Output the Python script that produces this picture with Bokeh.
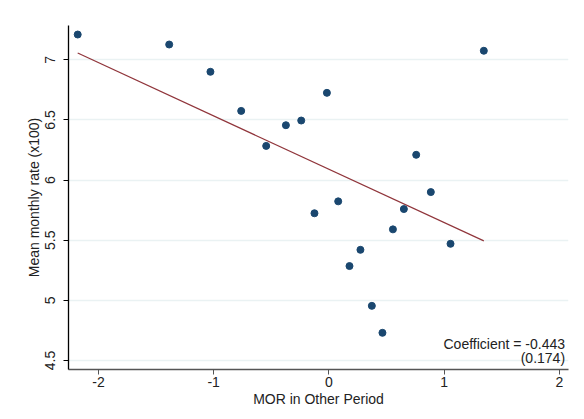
from bokeh.plotting import figure
from bokeh.models import Range1d, FixedTicker, Label
from bokeh.embed import file_html
from bokeh.resources import INLINE

# Data
mor_other = [-2.18, -1.386, -1.028, -0.761, -0.544, -0.373, -0.240, -0.017, 1.345,
             0.758, 0.885, 0.081, -0.125, 0.651, 0.556, 1.056, 0.274, 0.179, 0.373, 0.465]
mean_rate = [7.21, 7.127, 6.90, 6.575, 6.284, 6.456, 6.495, 6.725, 7.075,
             6.21, 5.90, 5.823, 5.724, 5.759, 5.59, 5.47, 5.42, 5.285, 4.954, 4.73]

fit_slope = -0.443
fit_intercept = 6.09
coef_text = "Coefficient = -0.443"
se_text = "(0.174)"

x_ticks = [-2, -1, 0, 1, 2]
x_tick_labels = ["-2", "-1", "0", "1", "2"]
y_ticks = [4.5, 5, 5.5, 6, 6.5, 7]
y_tick_labels = ["4.5", "5", "5.5", "6", "6.5", "7"]

FONT = "Liberation Sans"
FS = "14px"

p = figure(width=576, height=415, output_backend="svg", toolbar_location=None,
           x_range=Range1d(-2.26, 2.08), y_range=Range1d(4.425, 7.285),
           min_border_left=68, min_border_right=8, min_border_top=25, min_border_bottom=46)
p.outline_line_color = None
p.background_fill_color = "white"
p.border_fill_color = "white"

# grid
p.xgrid.grid_line_color = None
p.ygrid.grid_line_color = "#eaf2f3"
p.ygrid.grid_line_width = 1.5
p.ygrid.ticker = FixedTicker(ticks=y_ticks)

# axes
p.xaxis.ticker = FixedTicker(ticks=x_ticks)
p.yaxis.ticker = FixedTicker(ticks=y_ticks)
p.xaxis.major_label_overrides = {t: l for t, l in zip(x_ticks, x_tick_labels)}
p.yaxis.major_label_overrides = {t: l for t, l in zip(y_ticks, y_tick_labels)}
p.yaxis.major_label_orientation = "vertical"
for ax in (p.xaxis, p.yaxis):
    ax.minor_tick_line_color = None
    ax.major_tick_out = 5
    ax.major_tick_in = 0
    ax.major_label_text_font = FONT
    ax.major_label_text_font_size = FS
    ax.major_label_text_color = "#222222"
    ax.axis_label_text_font = FONT
    ax.axis_label_text_font_size = FS
    ax.axis_label_text_font_style = "normal"
    ax.axis_label_text_color = "#222222"
p.xaxis.axis_line_color = "#555555"
p.xaxis.axis_line_width = 1.5
p.xaxis.major_tick_line_color = "#555555"
p.yaxis.axis_line_color = "black"
p.yaxis.axis_line_width = 1.3
p.yaxis.major_tick_line_color = "black"
p.xaxis.major_label_standoff = 2
p.yaxis.major_label_standoff = 8
p.xaxis.axis_label_standoff = 1
p.yaxis.axis_label_standoff = 1
p.xaxis.axis_label = "MOR in Other Period"
p.yaxis.axis_label = "Mean monthly rate (x100)"

# fitted line from min x to max x
x0, x1 = min(mor_other), max(mor_other)
p.line([x0, x1], [fit_intercept + fit_slope * x0, fit_intercept + fit_slope * x1],
       line_color="#90353b", line_width=1.2)

# points
p.scatter(mor_other, mean_rate, size=7, fill_color="#1a476f", line_color="#1a476f")

# annotation
p.add_layout(Label(x=2.05, y=4.633, text=coef_text, text_align="right", text_baseline="middle",
                   text_font=FONT, text_font_size=FS, text_color="#222222"))
p.add_layout(Label(x=2.05, y=4.521, text=se_text, text_align="right", text_baseline="middle",
                   text_font=FONT, text_font_size=FS, text_color="#222222"))

open("out.html", "w").write(file_html(p, INLINE))
